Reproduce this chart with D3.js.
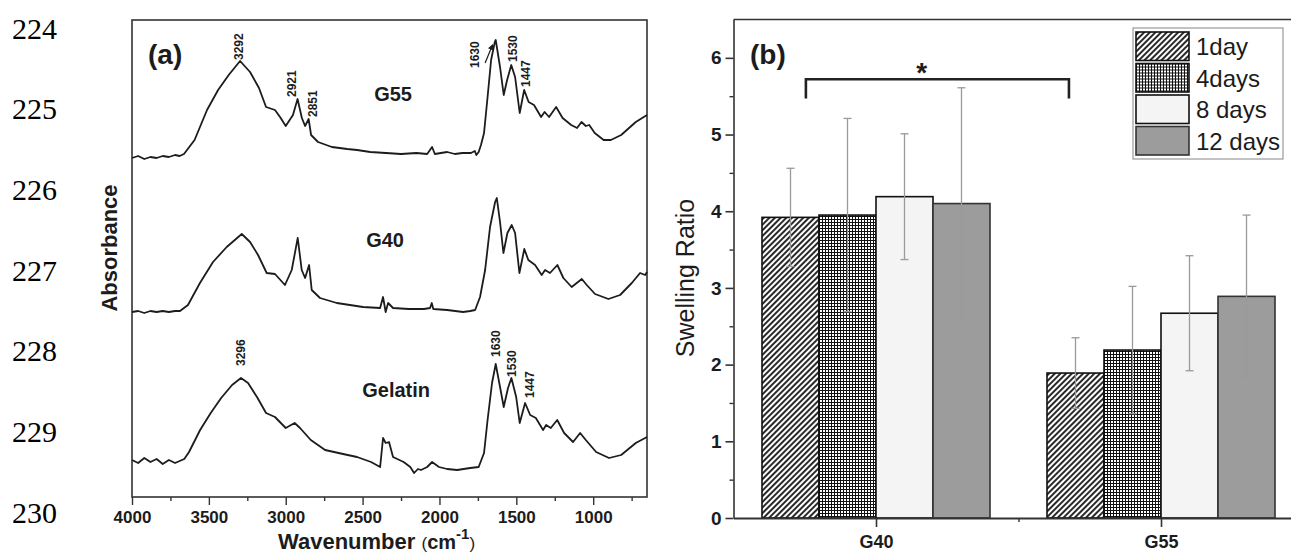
<!DOCTYPE html>
<html>
<head>
<meta charset="utf-8">
<script src="https://cdn.jsdelivr.net/npm/d3@7"></script>
<style>
  body { margin: 0; background: #fff; }
  svg { display: block; }
</style>
</head>
<body>
<div id="figure"></div>
<script>
// Manuscript line numbers in the left margin
const lineNumbers = ['224', '225', '226', '227', '228', '229', '230'];

// FTIR spectra: [wavenumber cm-1, absorbance a.u.]
const g55Spectrum = [
    [4000, 339], [3960, 341], [3920, 338], [3880, 340], [3840, 339], [3800, 341], [3760, 340],
    [3720, 342], [3690, 341], [3662, 343], [3593, 357], [3512, 387], [3440, 407], [3371, 422],
    [3297, 436], [3232, 425], [3174, 409], [3128, 390], [3070, 387], [3037, 380], [3000, 371],
    [2953, 382], [2923, 398], [2895, 379], [2874, 371], [2851, 378], [2835, 362], [2790, 355],
    [2700, 350], [2600, 348], [2536, 347], [2450, 345], [2348, 344], [2250, 343], [2150, 344],
    [2080, 343], [2048, 350], [2030, 343], [1950, 345], [1900, 343], [1850, 344], [1795, 344],
    [1770, 346], [1760, 342], [1745, 345], [1730, 352], [1710, 364], [1687, 400], [1664, 437],
    [1640, 455], [1634, 457], [1606, 430], [1582, 402], [1560, 417], [1533, 432], [1508, 420],
    [1478, 384], [1449, 407], [1420, 395], [1385, 392], [1339, 380], [1316, 385], [1287, 380],
    [1241, 390], [1199, 379], [1143, 372], [1105, 369], [1076, 375], [1048, 371], [1026, 372],
    [990, 364], [932, 357], [885, 357], [818, 362], [723, 375], [650, 382]
];
const g40Spectrum = [
    [4000, 185], [3960, 186], [3920, 184], [3880, 186], [3840, 185], [3800, 186], [3760, 185],
    [3720, 186], [3688, 186], [3636, 192], [3558, 214], [3473, 235], [3384, 250], [3286, 263],
    [3232, 255], [3180, 242], [3124, 224], [3070, 223], [3005, 212], [2961, 227], [2922, 259],
    [2896, 227], [2874, 219], [2848, 232], [2831, 207], [2777, 199], [2668, 194], [2497, 190],
    [2386, 189], [2367, 200], [2350, 185], [2334, 194], [2302, 189], [2200, 188], [2100, 188],
    [2061, 189], [2050, 194], [2040, 188], [1950, 187], [1846, 185], [1800, 186], [1768, 187],
    [1736, 200], [1703, 227], [1671, 270], [1638, 295], [1627, 299], [1606, 275], [1584, 244],
    [1558, 264], [1530, 272], [1508, 264], [1480, 224], [1448, 248], [1422, 237], [1378, 232],
    [1335, 222], [1313, 227], [1281, 224], [1233, 232], [1194, 219], [1140, 210], [1107, 214],
    [1074, 218], [1042, 212], [988, 203], [901, 198], [825, 202], [749, 214], [695, 224],
    [662, 222], [650, 225]
];
const gelatinSpectrum = [
    [4000, 37], [3960, 34], [3920, 39], [3880, 35], [3840, 38], [3800, 33], [3760, 37],
    [3720, 34], [3690, 36], [3660, 38], [3629, 45], [3557, 67], [3488, 84], [3420, 99],
    [3349, 112], [3291, 119], [3245, 114], [3187, 100], [3128, 84], [3070, 80], [3000, 69],
    [2942, 74], [2907, 69], [2837, 57], [2744, 47], [2627, 43], [2536, 40], [2445, 35],
    [2386, 30], [2367, 59], [2350, 54], [2328, 55], [2302, 40], [2233, 35], [2190, 30],
    [2165, 24], [2140, 28], [2120, 27], [2080, 30], [2048, 35], [2003, 30], [1950, 28],
    [1885, 27], [1800, 29], [1745, 30], [1710, 44], [1687, 77], [1658, 114], [1634, 133],
    [1606, 110], [1582, 90], [1554, 109], [1532, 119], [1501, 100], [1478, 74], [1443, 94],
    [1410, 82], [1373, 79], [1326, 67], [1306, 72], [1276, 69], [1234, 77], [1189, 64],
    [1131, 55], [1085, 64], [1048, 57], [981, 45], [897, 39], [818, 42], [723, 54], [650, 60]
];
const spectra = [g55Spectrum, g40Spectrum, gelatinSpectrum];

// Sample names and where they sit: [name, wavenumber, absorbance]
const sampleNames = [['G55', 2302, 403], ['G40', 2354, 257], ['Gelatin', 2282, 107]];

// Peak annotations: [text, wavenumber, absorbance at foot of label]
const peakLabels = [
    ['3292', 3304, 437], ['2921', 2959, 400], ['2851', 2826, 380],
    ['1630', 1768, 429], ['1530', 1525, 435], ['1447', 1436, 410],
    ['3296', 3291, 131], ['1630', 1632, 140], ['1530', 1528, 120], ['1447', 1411, 99]
];
const wavenumberTicks = [4000, 3500, 3000, 2500, 2000, 1500, 1000];
const wavenumberMinor = [3750, 3250, 2750, 2250, 1750, 1250, 750];

// Panel (b): swelling ratio
const groups = ['G40', 'G55'];
const periods = ['1day', '4days', '8 days', '12 days'];
const swellG40 = [3.92, 3.95, 4.19, 4.10];
const swellG55 = [1.89, 2.19, 2.67, 2.89];
const errG40 = [0.64, 1.26, 0.82, 1.51];
const errG55 = [0.46, 0.83, 0.75, 1.06];
const ratioTicks = [0, 1, 2, 3, 4, 5, 6];
const ratioMinor = [0.5, 1.5, 2.5, 3.5, 4.5, 5.5];
// significance bracket between G40 and G55 (x in group units, y in ratio)
const bracket = { from: 0.754, to: 1.677, top: 5.72, foot: 5.47, starX: 1.16, starY: 5.69 };

const W = 1291, H = 554;
const sans = '"Liberation Sans", Arial, Helvetica, sans-serif';
const ink = '#1c1c1c';

const svg = d3.select('#figure').append('svg')
    .attr('width', W)
    .attr('height', H)
    .style('font-family', sans);

svg.append('rect').attr('width', W).attr('height', H).attr('fill', '#fff');

// ---------- patterns for bar fills ----------
const defs = svg.append('defs');
const hatch = defs.append('pattern')
    .attr('id', 'hatch')
    .attr('patternUnits', 'userSpaceOnUse')
    .attr('width', 4).attr('height', 4)
    .attr('patternTransform', 'rotate(45)');
hatch.append('rect').attr('width', 4).attr('height', 4).attr('fill', '#fff');
hatch.append('line')
    .attr('x1', 2).attr('y1', 0).attr('x2', 2).attr('y2', 4)
    .attr('stroke', '#111').attr('stroke-width', 1.8);

const grid = defs.append('pattern')
    .attr('id', 'grid')
    .attr('patternUnits', 'userSpaceOnUse')
    .attr('width', 3).attr('height', 3);
grid.append('rect').attr('width', 3).attr('height', 3).attr('fill', '#fff');
grid.append('path')
    .attr('d', 'M0.5,0V3M0,0.5H3')
    .attr('stroke', '#111').attr('stroke-width', 1);

const periodFill = ['url(#hatch)', 'url(#grid)', '#f4f4f4', '#9c9c9c'];
const periodStroke = ['#111', '#111', '#111', '#333'];

// ---------- line numbers ----------
const lineY = d3.scaleLinear().domain([0, lineNumbers.length - 1]).range([28, 512]);
svg.append('g')
    .selectAll('text')
    .data(lineNumbers)
    .enter()
    .append('text')
        .attr('x', 12)
        .attr('y', (d, i) => lineY(i))
        .attr('dy', '0.35em')
        .style('font-family', '"Liberation Serif", "Times New Roman", serif')
        .style('font-size', '30px')
        .attr('fill', '#000')
        .text(d => d);

// ---------- panel (a): FTIR ----------
const xa = d3.scaleLinear().domain([4000, 650]).range([132, 647]);
const ya = d3.scaleLinear().domain([0, 477]).range([497, 20]);

const pa = svg.append('g');

pa.append('rect')
    .attr('x', xa.range()[0]).attr('y', ya.range()[1])
    .attr('width', xa.range()[1] - xa.range()[0])
    .attr('height', ya.range()[0] - ya.range()[1])
    .attr('fill', 'none').attr('stroke', '#333').attr('stroke-width', 1.6);

const spectrumLine = d3.line()
    .x(d => xa(d[0]))
    .y(d => ya(d[1]));

pa.selectAll('path.spectrum')
    .data(spectra)
    .enter()
    .append('path')
        .attr('class', 'spectrum')
        .attr('d', spectrumLine)
        .attr('fill', 'none')
        .attr('stroke', ink)
        .attr('stroke-width', 1.8)
        .attr('stroke-linejoin', 'round');

const axisA = pa.append('g')
    .attr('transform', 'translate(0,' + ya.range()[0] + ')')
    .call(d3.axisBottom(xa).tickValues(wavenumberTicks).tickSize(8).tickSizeOuter(0).tickPadding(6).tickFormat(d3.format('d')));
axisA.select('.domain').remove();
axisA.selectAll('line').attr('stroke', '#333').attr('stroke-width', 1.4);
axisA.selectAll('text')
    .attr('fill', ink)
    .style('font-family', sans)
    .style('font-size', '17px')
    .style('font-weight', 'bold');

const minorA = pa.append('g')
    .attr('transform', 'translate(0,' + ya.range()[0] + ')')
    .call(d3.axisBottom(xa).tickValues(wavenumberMinor).tickSize(4).tickFormat(''));
minorA.select('.domain').remove();
minorA.selectAll('line').attr('stroke', '#333').attr('stroke-width', 1.4);

pa.selectAll('text.sample')
    .data(sampleNames)
    .enter()
    .append('text')
        .attr('class', 'sample')
        .attr('x', d => xa(d[1]))
        .attr('y', d => ya(d[2]))
        .attr('dy', '0.36em')
        .attr('text-anchor', 'middle')
        .style('font-size', '20px')
        .style('font-weight', 'bold')
        .attr('fill', ink)
        .text(d => d[0]);

pa.selectAll('text.peak')
    .data(peakLabels)
    .enter()
    .append('text')
        .attr('class', 'peak')
        .attr('transform', d => 'translate(' + (xa(d[1]) + 4.3) + ',' + ya(d[2]) + ') rotate(-90)')
        .style('font-size', '12px')
        .style('font-weight', 'bold')
        .attr('fill', ink)
        .text(d => d[0]);

// little arrow from the 1630 label to the G55 amide I peak
defs.append('marker')
    .attr('id', 'arrow')
    .attr('viewBox', '0 0 10 10')
    .attr('refX', 8).attr('refY', 5)
    .attr('markerWidth', 5).attr('markerHeight', 5)
    .attr('orient', 'auto')
    .append('path').attr('d', 'M0,0L10,5L0,10Z').attr('fill', ink);
pa.append('line')
    .attr('x1', xa(1703)).attr('y1', ya(434))
    .attr('x2', xa(1655)).attr('y2', ya(452))
    .attr('stroke', ink).attr('stroke-width', 1.2)
    .attr('marker-end', 'url(#arrow)');

pa.append('text')
    .attr('x', 148).attr('y', 64)
    .style('font-size', '28px').style('font-weight', 'bold')
    .attr('fill', ink)
    .text('(a)');

pa.append('text')
    .attr('transform', 'translate(117,' + 248 + ') rotate(-90)')
    .attr('text-anchor', 'middle')
    .style('font-size', '22px').style('font-weight', 'bold')
    .attr('fill', ink)
    .text('Absorbance');

const xTitle = pa.append('text')
    .attr('x', 278).attr('y', 549)
    .attr('fill', ink);
xTitle.append('tspan').style('font-size', '22px').style('font-weight', 'bold').text('Wavenumber ');
xTitle.append('tspan').style('font-size', '17px').text('(');
xTitle.append('tspan').style('font-size', '20px').style('font-weight', 'bold').text('cm');
xTitle.append('tspan').attr('dy', -10).style('font-size', '15px').style('font-weight', 'bold').text('-1');
xTitle.append('tspan').attr('dy', 10).style('font-size', '17px').text(')');

// ---------- panel (b): swelling ratio ----------
const xb = d3.scaleLinear().domain([0.5, 2.5]).range([733.5, 1303.5]);
const yb = d3.scaleLinear().domain([0, 6.5]).range([518, 19.5]);
const barW = xb(0.7) - xb(0.5);

const pb = svg.append('g');

pb.append('line')
    .attr('x1', xb(0.5)).attr('x2', W)
    .attr('y1', yb(6.5)).attr('y2', yb(6.5))
    .attr('stroke', '#333').attr('stroke-width', 1.6);

const barData = [];
groups.forEach((g, gi) => {
    const vals = gi === 0 ? swellG40 : swellG55;
    const errs = gi === 0 ? errG40 : errG55;
    periods.forEach((p, pi) => {
        barData.push({ group: gi + 1, period: pi, value: vals[pi], err: errs[pi] });
    });
});
const barX = d => xb(d.group + (d.period - 2) * 0.2);

pb.selectAll('rect.bar')
    .data(barData)
    .enter()
    .append('rect')
        .attr('class', 'bar')
        .attr('x', barX)
        .attr('y', d => yb(d.value))
        .attr('width', barW)
        .attr('height', d => yb(0) - yb(d.value))
        .attr('fill', d => periodFill[d.period])
        .attr('stroke', d => periodStroke[d.period])
        .attr('stroke-width', 1.6);

const errG = pb.selectAll('g.err')
    .data(barData)
    .enter()
    .append('g')
        .attr('class', 'err')
        .attr('stroke', '#9a9a9a')
        .attr('stroke-width', 1.3);
errG.append('line')
    .attr('x1', d => barX(d) + barW / 2).attr('x2', d => barX(d) + barW / 2)
    .attr('y1', d => yb(d.value + d.err)).attr('y2', d => yb(d.value - d.err));
errG.append('line')
    .attr('x1', d => barX(d) + barW / 2 - 4).attr('x2', d => barX(d) + barW / 2 + 4)
    .attr('y1', d => yb(d.value + d.err)).attr('y2', d => yb(d.value + d.err));
errG.append('line')
    .attr('x1', d => barX(d) + barW / 2 - 4).attr('x2', d => barX(d) + barW / 2 + 4)
    .attr('y1', d => yb(d.value - d.err)).attr('y2', d => yb(d.value - d.err));

// y axis
const axisY = pb.append('g')
    .attr('transform', 'translate(' + xb(0.5) + ',0)')
    .call(d3.axisLeft(yb).tickValues(ratioTicks).tickSize(8).tickSizeOuter(0).tickPadding(4).tickFormat(d3.format('d')));
axisY.select('.domain').attr('stroke', '#333').attr('stroke-width', 1.6);
axisY.selectAll('line').attr('stroke', '#333').attr('stroke-width', 1.6);
axisY.selectAll('text')
    .attr('fill', ink)
    .style('font-family', sans)
    .style('font-size', '19px')
    .style('font-weight', 'bold');
const minorY = pb.append('g')
    .attr('transform', 'translate(' + xb(0.5) + ',0)')
    .call(d3.axisLeft(yb).tickValues(ratioMinor).tickSize(4).tickFormat(''));
minorY.select('.domain').remove();
minorY.selectAll('line').attr('stroke', '#333').attr('stroke-width', 1.4);

// x axis
const axisX = pb.append('g')
    .attr('transform', 'translate(0,' + yb(0) + ')')
    .call(d3.axisBottom(xb).tickValues([1, 2]).tickSize(9).tickSizeOuter(0).tickPadding(8).tickFormat(d => groups[d - 1]));
axisX.select('.domain').attr('stroke', '#333').attr('stroke-width', 1.8);
axisX.selectAll('line').attr('stroke', '#333').attr('stroke-width', 1.6);
axisX.selectAll('text')
    .attr('fill', ink)
    .style('font-family', sans)
    .style('font-size', '18px')
    .style('font-weight', 'bold');
const minorX = pb.append('g')
    .attr('transform', 'translate(0,' + yb(0) + ')')
    .call(d3.axisBottom(xb).tickValues([1.5]).tickSize(4).tickFormat(''));
minorX.select('.domain').remove();
minorX.selectAll('line').attr('stroke', '#333').attr('stroke-width', 1.4);

pb.append('text')
    .attr('transform', 'translate(694,' + 278 + ') rotate(-90)')
    .attr('text-anchor', 'middle')
    .style('font-size', '25px')
    .attr('fill', ink)
    .text('Swelling Ratio');

pb.append('text')
    .attr('x', 750).attr('y', 64)
    .style('font-size', '28px').style('font-weight', 'bold')
    .attr('fill', ink)
    .text('(b)');

// significance bracket
pb.append('path')
    .attr('d', 'M' + xb(bracket.from) + ',' + yb(bracket.foot) +
        'V' + yb(bracket.top) + 'H' + xb(bracket.to) + 'V' + yb(bracket.foot))
    .attr('fill', 'none')
    .attr('stroke', '#222')
    .attr('stroke-width', 2.6);
pb.append('text')
    .attr('x', xb(bracket.starX)).attr('y', yb(bracket.starY))
    .attr('text-anchor', 'middle')
    .style('font-size', '28px').style('font-weight', 'bold')
    .attr('fill', ink)
    .text('*');

// legend
const legend = pb.append('g').attr('transform', 'translate(1133,28)');
legend.append('rect')
    .attr('width', 150).attr('height', 131)
    .attr('fill', '#fff').attr('stroke', '#9a9a9a').attr('stroke-width', 1.2);
const rows = legend.selectAll('g.row')
    .data(periods)
    .enter()
    .append('g')
        .attr('class', 'row')
        .attr('transform', (d, i) => 'translate(3,' + (4 + i * 31.5) + ')');
rows.append('rect')
    .attr('width', 53).attr('height', 28.5)
    .attr('fill', (d, i) => periodFill[i])
    .attr('stroke', (d, i) => periodStroke[i])
    .attr('stroke-width', 1.6);
rows.append('text')
    .attr('x', 60).attr('y', 23)
    .style('font-size', '24px')
    .attr('fill', ink)
    .text(d => d);
</script>
</body>
</html>
